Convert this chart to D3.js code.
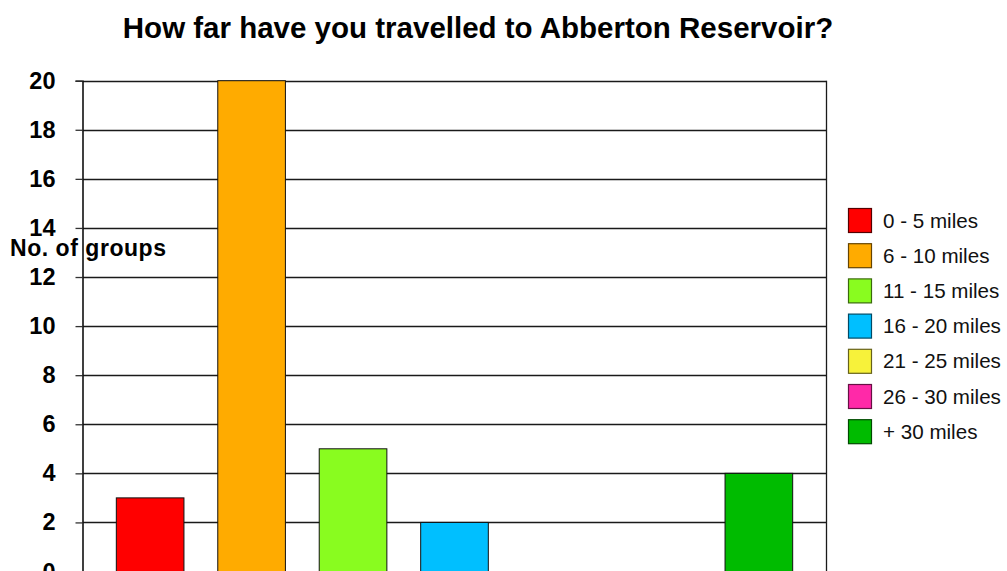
<!DOCTYPE html>
<html>
<head>
<meta charset="utf-8">
<script src="https://cdn.jsdelivr.net/npm/d3@7"></script>
<style>
  html, body { margin: 0; padding: 0; background: #fff; }
  svg { display: block; font-family: "Liberation Sans", Arial, Helvetica, sans-serif; }
</style>
</head>
<body>
<svg id="chart" width="1007" height="571"></svg>
<script>
// Distance bands (one bar per band)
const categories = ["0 - 5 miles", "6 - 10 miles", "11 - 15 miles", "16 - 20 miles",
                    "21 - 25 miles", "26 - 30 miles", "+ 30 miles"];
// Number of groups in each band
const groupCounts = [3, 20, 5, 2, 0, 0, 4];
// Y axis ticks
const yTicks = [0, 2, 4, 6, 8, 10, 12, 14, 16, 18, 20];
const fillColors = ["#ff0000", "#ffab00", "#89fc1f", "#00bfff", "#f7f23a", "#ff29a8", "#00bb00"];
const edgeColors = ["#550000", "#664400", "#3a6a0c", "#004a66", "#66621a", "#661044", "#004a00"];

const svg = d3.select("#chart");
const plot = { left: 82.5, right: 826.5, top: 80.7, bottom: 571.5 };

const x = d3.scaleBand()
  .domain(categories)
  .range([plot.left, plot.right])
  .paddingInner(1 / 3)
  .paddingOuter(1 / 3);

const y = d3.scaleLinear()
  .domain([0, 20])
  .range([plot.bottom, plot.top]);

// Title
svg.append("text")
  .attr("x", 478)
  .attr("y", 38)
  .attr("text-anchor", "middle")
  .attr("font-weight", "bold")
  .attr("font-size", 29.5)
  .text("How far have you travelled to Abberton Reservoir?");

// Horizontal gridlines
svg.append("g")
  .selectAll("line")
  .data(yTicks)
  .join("line")
  .attr("x1", plot.left)
  .attr("x2", plot.right)
  .attr("y1", d => Math.round(y(d)) + 0.5)
  .attr("y2", d => Math.round(y(d)) + 0.5)
  .attr("stroke", "#1a1a1a")
  .attr("stroke-width", 1.3);

// Right border of the plot area
svg.append("line")
  .attr("x1", plot.right).attr("x2", plot.right)
  .attr("y1", plot.top).attr("y2", plot.bottom)
  .attr("stroke", "#1a1a1a").attr("stroke-width", 1.3);

// Bars
svg.append("g")
  .selectAll("rect")
  .data(categories.map((c, i) => ({ c, v: groupCounts[i], i })))
  .join("rect")
  .attr("x", d => x(d.c))
  .attr("width", x.bandwidth())
  .attr("y", d => y(d.v))
  .attr("height", d => y(0) - y(d.v))
  .attr("fill", d => fillColors[d.i])
  .attr("stroke", "#111")
  .attr("stroke-width", 1);

// Y axis
const yAxis = d3.axisLeft(y)
  .tickValues(yTicks)
  .tickFormat(d3.format("d"))
  .tickSize(7)
  .tickPadding(20);

const ag = svg.append("g")
  .attr("transform", `translate(${plot.left},0)`)
  .call(yAxis);
ag.select(".domain").attr("stroke", "#111").attr("stroke-width", 1.6);
ag.selectAll(".tick line").attr("stroke", "#333").attr("stroke-width", 1.3);
ag.selectAll(".tick text")
  .attr("font-family", "'Liberation Sans', Arial, sans-serif")
  .attr("font-size", 23.5)
  .attr("font-weight", "bold")
  .attr("fill", "#000");

// Axis title
svg.append("text")
  .attr("x", 10)
  .attr("y", 256)
  .attr("font-weight", "bold")
  .attr("font-size", 23)
  .attr("textLength", 156)
  .text("No. of groups");

// Legend
const legend = svg.append("g")
  .selectAll("g")
  .data(categories)
  .join("g")
  .attr("transform", (d, i) => `translate(848.5,${208.5 + i * 35.2})`);

legend.append("rect")
  .attr("width", 23)
  .attr("height", 24)
  .attr("fill", (d, i) => fillColors[i])
  .attr("stroke", (d, i) => edgeColors[i])
  .attr("stroke-width", 1.2);

legend.append("text")
  .attr("x", 34.5)
  .attr("y", 19)
  .attr("font-size", 20.6)
  .attr("fill", "#111")
  .text(d => d);
</script>
</body>
</html>
